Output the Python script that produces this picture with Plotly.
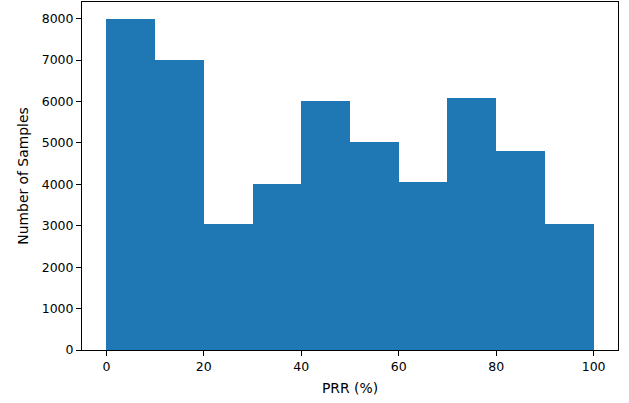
import plotly.graph_objects as go

bin_edges = [0, 10, 20, 30, 40, 50, 60, 70, 80, 90, 100]
counts = [8000, 6995, 3040, 4005, 6005, 5020, 4050, 6080, 4800, 3040]
x_ticks = [0, 20, 40, 60, 80, 100]
y_ticks = [0, 1000, 2000, 3000, 4000, 5000, 6000, 7000, 8000]

centers = [(a + b) / 2 for a, b in zip(bin_edges[:-1], bin_edges[1:])]
widths = [b - a for a, b in zip(bin_edges[:-1], bin_edges[1:])]

fig = go.Figure(go.Bar(x=centers, y=counts, width=widths,
                       marker=dict(color="#1f77b4", line=dict(width=0))))

font = dict(family="DejaVu Sans", size=12.5, color="black")
title_font = dict(family="DejaVu Sans", size=13.9, color="black")
axis_common = dict(showline=True, linecolor="black", linewidth=1, mirror=True,
                   ticks="outside", ticklen=5, tickwidth=1, tickcolor="black",
                   showgrid=False, zeroline=False, tickfont=font, automargin=False)

fig.update_layout(
    width=629, height=403,
    margin=dict(l=82, r=11, t=2, b=53),
    paper_bgcolor="white", plot_bgcolor="white",
    bargap=0, showlegend=False, font=font,
    xaxis=dict(range=[-5, 105], tickvals=x_ticks, ticktext=[str(v) for v in x_ticks],
               title=dict(text="PRR (%)", font=title_font, standoff=10), **axis_common),
    yaxis=dict(range=[0, 8400], tickvals=y_ticks, ticktext=[str(v) for v in y_ticks],
               title=dict(text="Number of Samples", font=title_font, standoff=9), **axis_common),
)

fig.write_html("out.html", config={"displayModeBar": False},
               post_script="document.body.style.margin='0';document.body.style.overflow='hidden';")
